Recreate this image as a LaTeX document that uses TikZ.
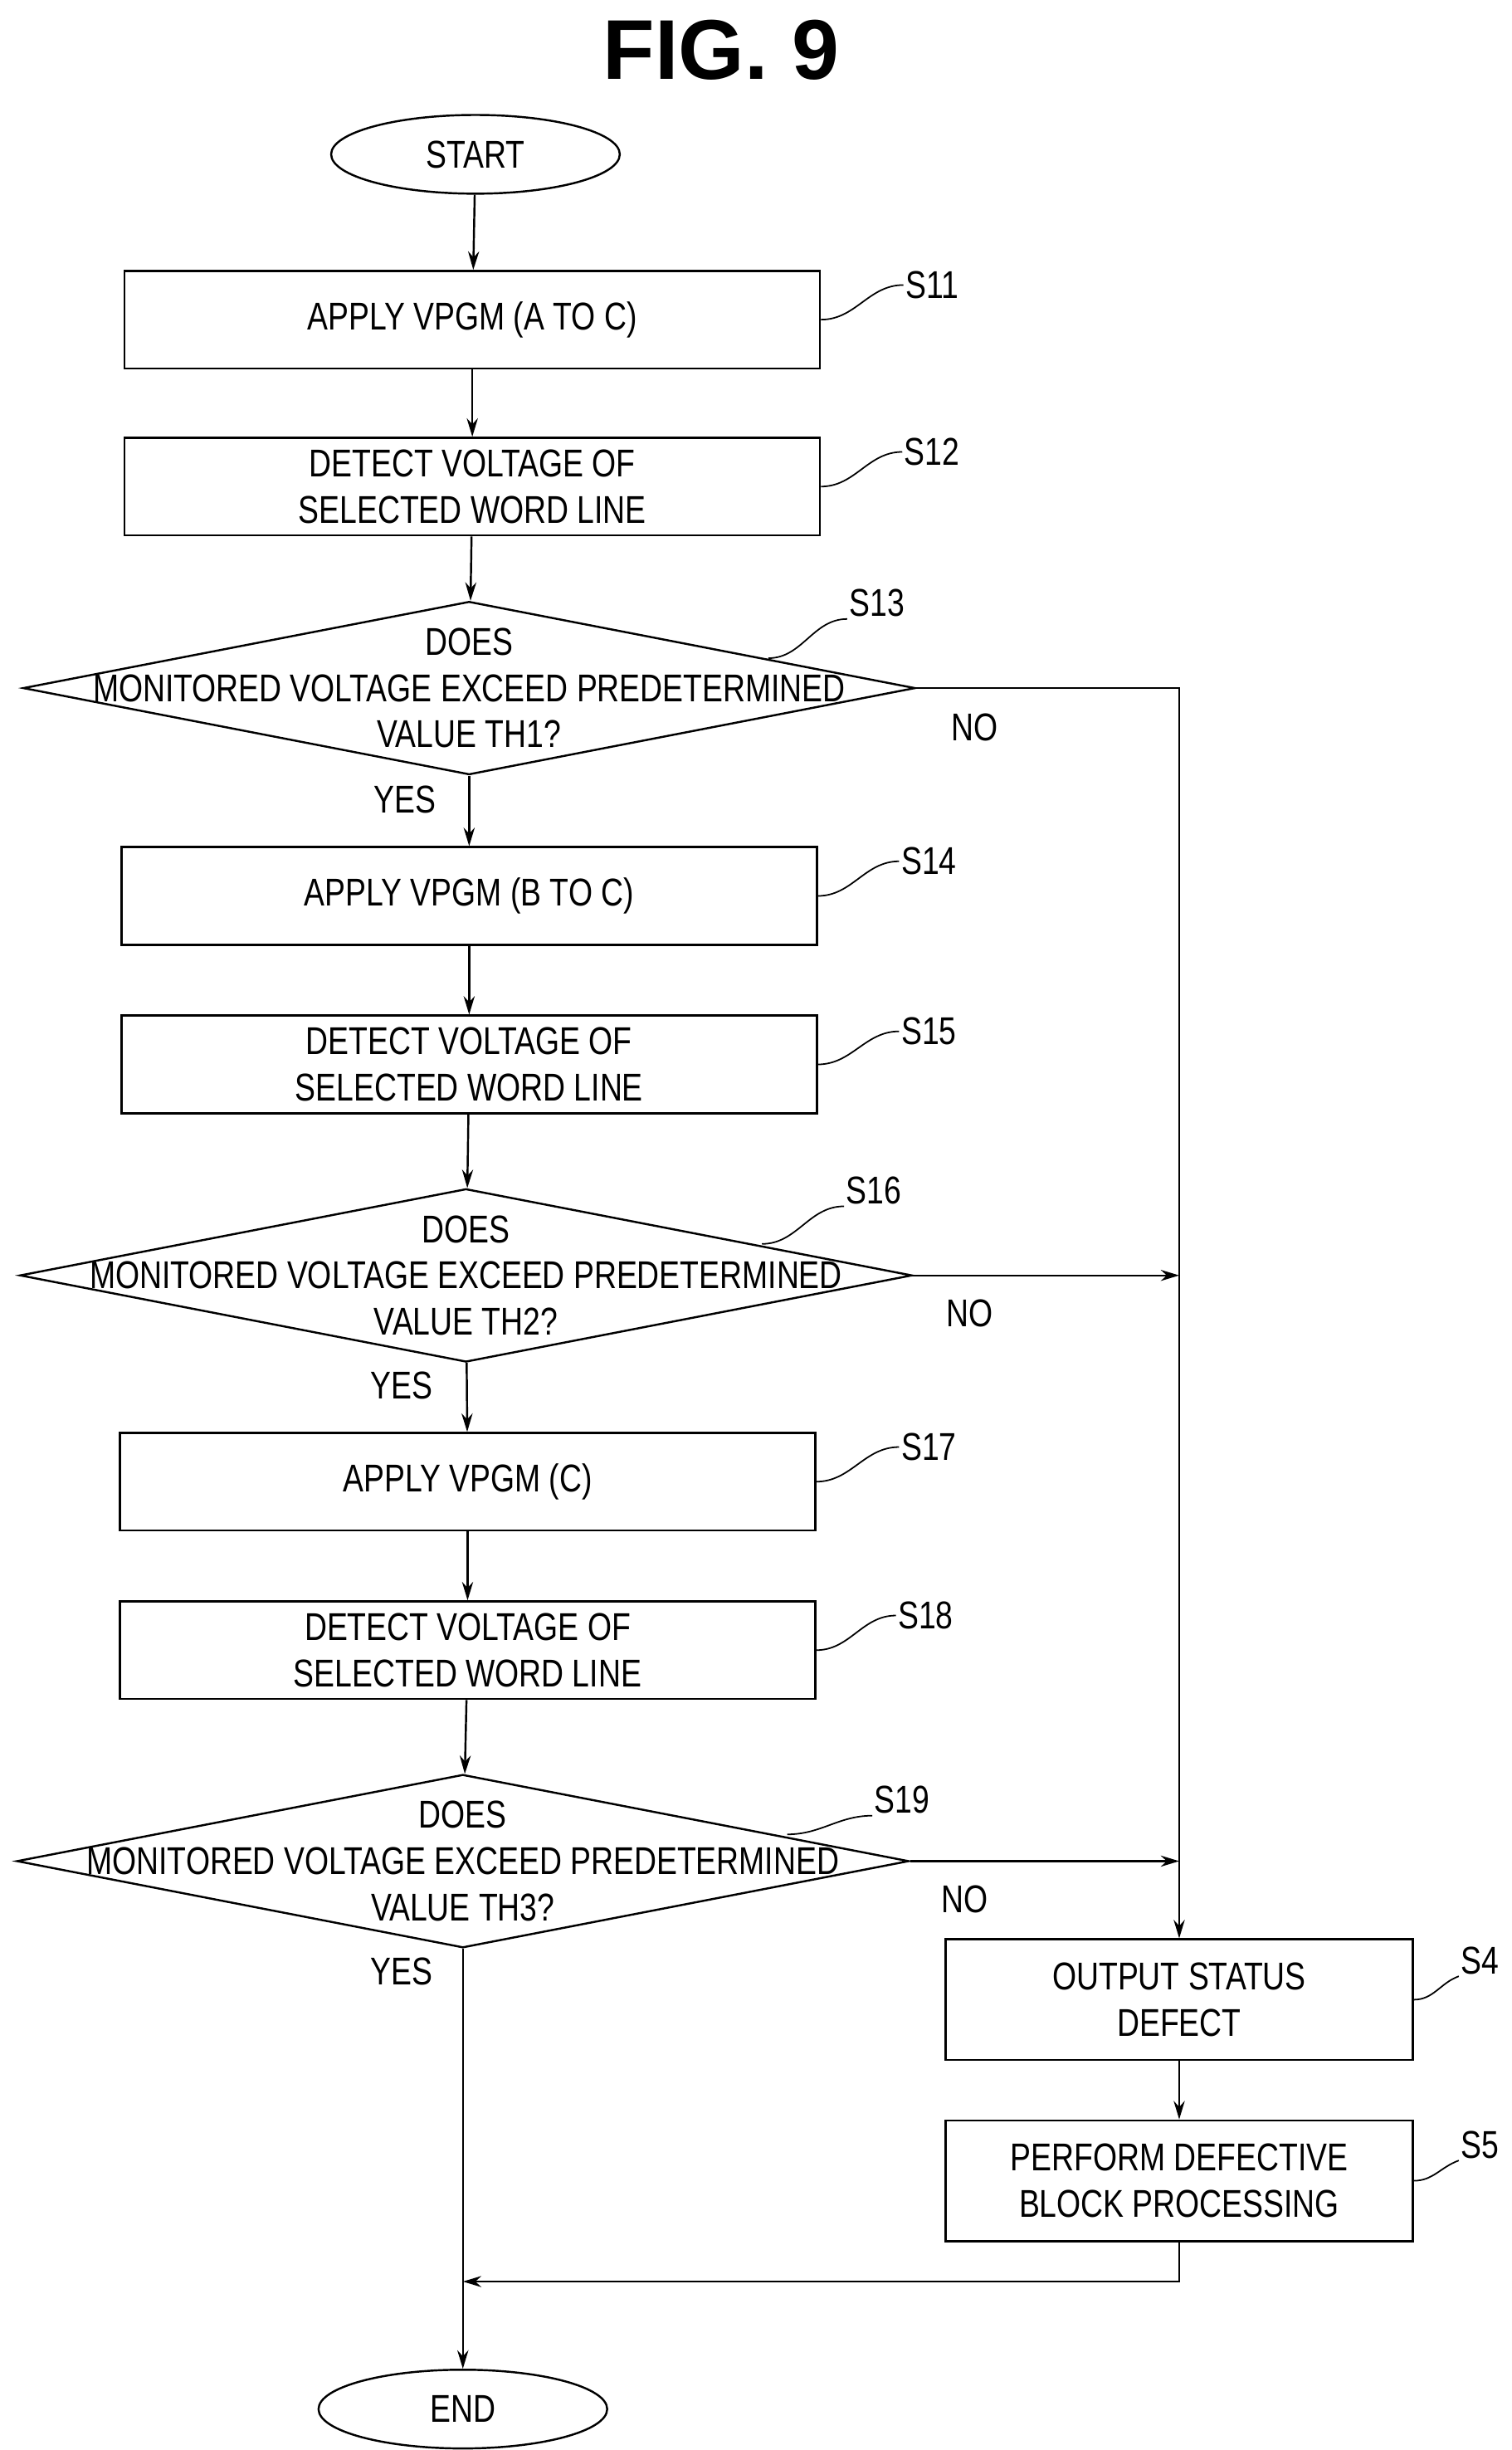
\documentclass[tikz,border=0pt]{standalone}
\usepackage{fontspec}
\setmainfont{Liberation Sans}[FakeStretch=0.8]
\newfontfamily\titlefont{Liberation Sans}
\usetikzlibrary{shapes.geometric,arrows.meta}
\tikzset{
  proc/.style={draw,line width=1.1pt,minimum width=13.25cm,minimum height=1.86cm,align=center,inner sep=0pt},
  sideproc/.style={draw,line width=1.1pt,minimum width=8.9cm,minimum height=2.3cm,align=center,inner sep=0pt},
  term/.style={draw,ellipse,line width=1.1pt,minimum width=5.5cm,minimum height=1.5cm,inner sep=0pt},
  test/.style={draw,diamond,line width=1.1pt,minimum width=17cm,minimum height=3.3cm,inner sep=0pt},
  flow/.style={line width=1.1pt,-{Stealth[length=10pt,width=6pt]}},
  lead/.style={line width=0.8pt},
  lbl/.style={inner sep=1pt}
}
\begin{document}
\begin{tikzpicture}[x=0.03cm,y=-0.03cm,font=\fontsize{21}{25}\selectfont]
  \useasboundingbox (0,0) rectangle (960,1556);
  \node at (458,32) {\titlefont\bfseries\fontsize{46}{50}\selectfont FIG. 9};

  \node[term] (start) at (302,98) {START};
  \node[proc] (s11) at (300,203) {APPLY VPGM (A TO C)};
  \node[proc] (s12) at (300,309) {DETECT VOLTAGE OF\\SELECTED WORD LINE};
  \node[test] (s13) at (298,437) {};
  \node[align=center] at (298,437) {DOES\\MONITORED VOLTAGE EXCEED PREDETERMINED\\VALUE TH1?};
  \node[proc] (s14) at (298,569) {APPLY VPGM (B TO C)};
  \node[proc] (s15) at (298,676) {DETECT VOLTAGE OF\\SELECTED WORD LINE};
  \node[test] (s16) at (296,810) {};
  \node[align=center] at (296,810) {DOES\\MONITORED VOLTAGE EXCEED PREDETERMINED\\VALUE TH2?};
  \node[proc] (s17) at (297,941) {APPLY VPGM (C)};
  \node[proc] (s18) at (297,1048) {DETECT VOLTAGE OF\\SELECTED WORD LINE};
  \node[test] (s19) at (294,1182) {};
  \node[align=center] at (294,1182) {DOES\\MONITORED VOLTAGE EXCEED PREDETERMINED\\VALUE TH3?};
  \node[sideproc] (s4) at (749,1270) {OUTPUT STATUS\\DEFECT};
  \node[sideproc] (s5) at (749,1385) {PERFORM DEFECTIVE\\BLOCK PROCESSING};
  \node[term] (end) at (294,1530) {END};

  % main column
  \draw[flow] (start) -- (s11);
  \draw[flow] (s11) -- (s12);
  \draw[flow] (s12) -- (s13);
  \draw[flow] (s13) -- (s14);
  \draw[flow] (s14) -- (s15);
  \draw[flow] (s15) -- (s16);
  \draw[flow] (s16) -- (s17);
  \draw[flow] (s17) -- (s18);
  \draw[flow] (s18) -- (s19);
  \draw[flow] (s19) -- (end);

  % NO branch
  \coordinate (no1) at (749,437);
  \coordinate (no2) at (749,810);
  \coordinate (no3) at (749,1182);
  \coordinate (back) at (749,1449);
  \coordinate (join) at (294,1449);
  \draw[flow] (s13.east) -- (no1) -- (s4.north);
  \draw[flow] (s16.east) -- (no2);
  \draw[flow] (s19.east) -- (no3);
  \draw[flow] (s4) -- (s5);
  \draw[flow] (s5.south) -- (back) -- (join);

  \node at (257,508) {YES};
  \node at (255,880) {YES};
  \node at (255,1252) {YES};
  \node at (619,462) {NO};
  \node at (616,834) {NO};
  \node at (613,1206) {NO};

  % step labels
  \node[lbl] (l11) at (592,181) {S11};
  \node[lbl] (l12) at (592,287) {S12};
  \node[lbl] (l13) at (557,383) {S13};
  \node[lbl] (l14) at (590,547) {S14};
  \node[lbl] (l15) at (590,655) {S15};
  \node[lbl] (l16) at (555,756) {S16};
  \node[lbl] (l17) at (590,919) {S17};
  \node[lbl] (l18) at (588,1026) {S18};
  \node[lbl] (l19) at (573,1143) {S19};
  \node[lbl] (l4) at (940,1245) {S4};
  \node[lbl] (l5) at (940,1362) {S5};
  \draw[lead] (s11.east) to[out=0,in=180] (l11.west);
  \draw[lead] (s12.east) to[out=0,in=180] (l12.west);
  \draw[lead] (488,418) to[out=0,in=180] (l13.south west);
  \draw[lead] (s14.east) to[out=0,in=180] (l14.west);
  \draw[lead] (s15.east) to[out=0,in=180] (l15.west);
  \draw[lead] (484,790) to[out=0,in=180] (l16.south west);
  \draw[lead] (s17.east) to[out=0,in=180] (l17.west);
  \draw[lead] (s18.east) to[out=0,in=180] (l18.west);
  \draw[lead] (500,1165) to[out=0,in=180] (l19.south west);
  \draw[lead] (s4.east) to[out=0,in=200] (l4.south west);
  \draw[lead] (s5.east) to[out=0,in=200] (l5.south west);
\end{tikzpicture}
\end{document}
